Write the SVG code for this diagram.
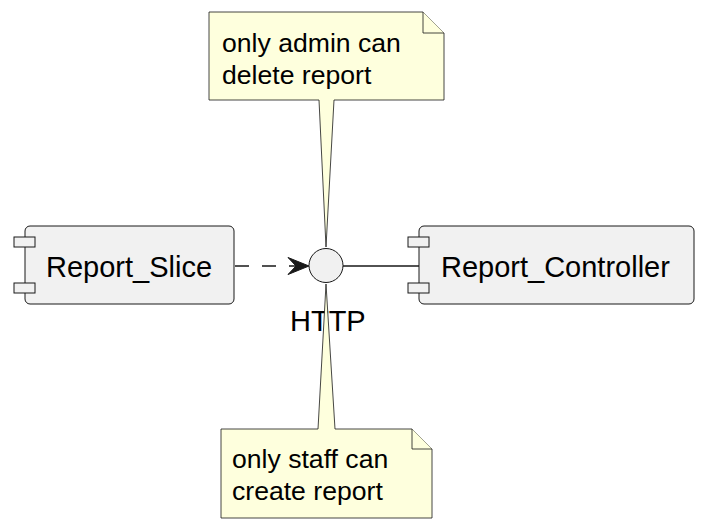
<svg xmlns="http://www.w3.org/2000/svg" width="707" height="531" viewBox="0 0 707 531">
<style>
.comp{fill:#F1F1F1;stroke:#181818;stroke-width:1}
.note{fill:#FEFFDD;stroke:#181818;stroke-width:0.8}
.ct{font-family:"Liberation Sans",Arial,sans-serif;font-size:29px;fill:#000}
.nt{font-family:"Liberation Sans",Arial,sans-serif;font-size:26.6px;fill:#000}
</style>
<rect width="707" height="531" fill="#FFFFFF"/>
<g id="connectors">
<line x1="235" y1="266" x2="296" y2="266" stroke="#181818" stroke-width="1.6" stroke-dasharray="14,13"/>
<polygon points="309,266 288,257.5 296,266 288,274.5" fill="#181818" stroke="#181818" stroke-width="1"/>
<line x1="343" y1="266" x2="419" y2="266" stroke="#181818" stroke-width="1.6"/>
</g>
<g id="Report_Slice">
<rect class="comp" x="25" y="226" width="209" height="78" rx="5"/>
<rect class="comp" x="14" y="237" width="21" height="10"/>
<rect class="comp" x="14" y="283" width="21" height="10"/>
<text class="ct" x="46" y="277">Report_Slice</text>
</g>
<g id="Report_Controller">
<rect class="comp" x="419" y="226" width="275" height="78" rx="5"/>
<rect class="comp" x="408" y="237" width="21" height="10"/>
<rect class="comp" x="408" y="283" width="21" height="10"/>
<text class="ct" x="441" y="277">Report_Controller</text>
</g>
<g id="HTTP">
<circle class="comp" cx="326" cy="265.5" r="17"/>
<text class="ct" x="290" y="331">HTTP</text>
</g>
<g id="note_admin">
<polygon class="note" points="209,12 423,12 444,33 444,100 334,100 326,247 319,100 209,100"/>
<polyline class="note" points="423,12 423,33 444,33" fill="none"/>
<text class="nt" x="222" y="52">only admin can</text>
<text class="nt" x="222" y="84">delete report</text>
</g>
<g id="note_staff">
<polygon class="note" points="221,429 318,429 326,284 335,429 412,429 432,449 432,518 221,518"/>
<polyline class="note" points="412,429 412,449 432,449" fill="none"/>
<text class="nt" x="232" y="468">only staff can</text>
<text class="nt" x="232" y="500">create report</text>
</g>
</svg>
